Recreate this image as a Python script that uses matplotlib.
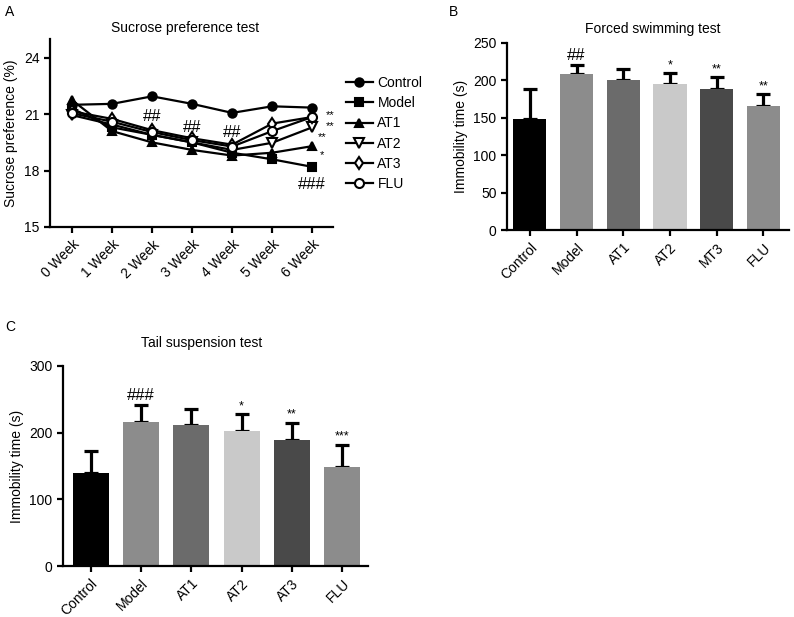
import matplotlib
matplotlib.use("Agg")
import matplotlib.pyplot as plt
import numpy as np

plt.rcParams['font.family'] = ['Liberation Sans', 'DejaVu Sans']

# ---- Panel A data ----
weeks = ["0 Week", "1 Week", "2 Week", "3 Week", "4 Week", "5 Week", "6 Week"]
sp_control = [21.5, 21.55, 21.95, 21.55, 21.07, 21.42, 21.35]
sp_model = [21.3, 20.3, 19.9, 19.5, 18.95, 18.6, 18.2]
sp_at1 = [21.75, 20.1, 19.5, 19.1, 18.8, 18.95, 19.3]
sp_at2 = [20.95, 20.45, 19.9, 19.5, 19.1, 19.48, 20.3]
sp_at3 = [21.15, 20.75, 20.15, 19.72, 19.38, 20.5, 20.85]
sp_flu = [21.05, 20.6, 20.05, 19.62, 19.28, 20.1, 20.85]
series_names = ["Control", "Model", "AT1", "AT2", "AT3", "FLU"]

# ---- Panel B data ----
fst_groups = ["Control", "Model", "AT1", "AT2", "MT3", "FLU"]
fst_mean = [148, 208, 201, 195, 189, 166]
fst_err = [41, 13, 14, 15, 16, 16]
fst_marks = ["", "##", "", "*", "**", "**"]

# ---- Panel C data ----
tst_groups = ["Control", "Model", "AT1", "AT2", "AT3", "FLU"]
tst_mean = [139, 216, 211, 203, 189, 149]
tst_err = [33, 25, 25, 25, 26, 33]
tst_marks = ["", "###", "", "*", "**", "***"]

bar_colors = ["#000000", "#8c8c8c", "#6b6b6b", "#c9c9c9", "#494949", "#8c8c8c"]

W, H = 794, 617
fig = plt.figure(figsize=(W / 100, H / 100), dpi=100)
FS = 10


def px_axes(l, t, r, b):
    return fig.add_axes([l / W, 1 - b / H, (r - l) / W, (b - t) / H])


def style(ax):
    for s in ["top", "right"]:
        ax.spines[s].set_visible(False)
    for s in ["left", "bottom"]:
        ax.spines[s].set_linewidth(1.6)
    ax.tick_params(direction="out", width=1.6, length=4, labelsize=FS)


def title_px(ax, x, y, t, l, tp, r, b):
    ax.text((x - l) / (r - l), (b - y) / (b - tp), t, transform=ax.transAxes,
            ha="center", va="center", fontsize=FS)


# ---- Panel A ----
A = (50, 39, 333, 227)
axA = px_axes(*A)
style(axA)
x = np.arange(len(weeks))
specs = [
    (sp_control, dict(marker="o", mfc="black", ms=6)),
    (sp_model, dict(marker="s", mfc="black", ms=6)),
    (sp_at1, dict(marker="^", mfc="black", ms=6)),
    (sp_at2, dict(marker="v", mfc="white", ms=6.5)),
    (sp_at3, dict(marker="d", mfc="white", ms=6)),
    (sp_flu, dict(marker="o", mfc="white", ms=6.5)),
]
for (vals, kw), name in zip(specs, series_names):
    axA.plot(x, vals, color="black", lw=1.6, mec="black", mew=1.5,
             label=name, **kw)
axA.set_xlim(-0.55, 6.52)
axA.set_ylim(15, 25)
axA.set_yticks([15, 18, 21, 24])
axA.set_xticks(x)
axA.set_xticklabels(weeks, rotation=45, ha="right", rotation_mode="anchor")
axA.set_ylabel("Sucrose preference (%)", fontsize=FS)
title_px(axA, 185, 28, "Sucrose preference test", *A)
for xi, yi, t in [(2, 20.9, "##"), (3, 20.3, "##"), (4, 20.05, "##"), (6, 17.28, "###")]:
    axA.text(xi, yi, t, ha="center", va="center", fontsize=12)
for xi, yi, t in [(6.44, 20.95, "**"), (6.44, 20.38, "**"), (6.26, 19.8, "**"),
                  (6.25, 18.8, "*")]:
    axA.text(xi, yi, t, ha="center", va="center", fontsize=8)
axA.legend(loc="upper left", bbox_to_anchor=(1.0, 0.87), frameon=False,
           fontsize=FS, handlelength=2.0, handletextpad=0.3, labelspacing=0.45)


# ---- bar panels ----
def bars(ax, groups, means, errs, marks, ylim, yticks, ylabel, xlim):
    style(ax)
    xb = np.arange(len(groups))
    ax.bar(xb, means, width=0.71, color=bar_colors, zorder=2)
    ax.errorbar(xb, means, yerr=[np.zeros(len(errs)), errs], fmt="none",
                ecolor="black", elinewidth=2.3, capsize=5, capthick=2.3, zorder=1)
    for xi, m, e, t in zip(xb, means, errs, marks):
        if t:
            fs = 12 if "#" in t else 9
            off = 0.05 * ylim[1] if "#" in t else 0.04 * ylim[1]
            ax.text(xi, m + e + off, t, ha="center", va="center", fontsize=fs)
    ax.set_xlim(*xlim)
    ax.set_ylim(*ylim)
    ax.set_yticks(yticks)
    ax.set_xticks(xb)
    ax.set_xticklabels(groups, rotation=45, ha="right", rotation_mode="anchor")
    ax.set_ylabel(ylabel, fontsize=FS)


B = (507, 43, 789, 230)
axB = px_axes(*B)
bars(axB, fst_groups, fst_mean, fst_err, fst_marks, (0, 250),
     [0, 50, 100, 150, 200, 250], "Immobility time (s)", (-0.49, 5.55))
title_px(axB, 653, 29, "Forced swimming test", *B)

C = (63, 366, 368, 566)
axC = px_axes(*C)
bars(axC, tst_groups, tst_mean, tst_err, tst_marks, (0, 300),
     [0, 100, 200, 300], "Immobility time (s)", (-0.55, 5.51))
title_px(axC, 202, 343, "Tail suspension test", *C)

fig.text(10 / W, 1 - 12 / H, "A", fontsize=FS, ha="center", va="center")
fig.text(453 / W, 1 - 12 / H, "B", fontsize=FS, ha="center", va="center")
fig.text(10 / W, 1 - 327 / H, "C", fontsize=FS, ha="center", va="center")

fig.savefig("out.png", dpi=100)
